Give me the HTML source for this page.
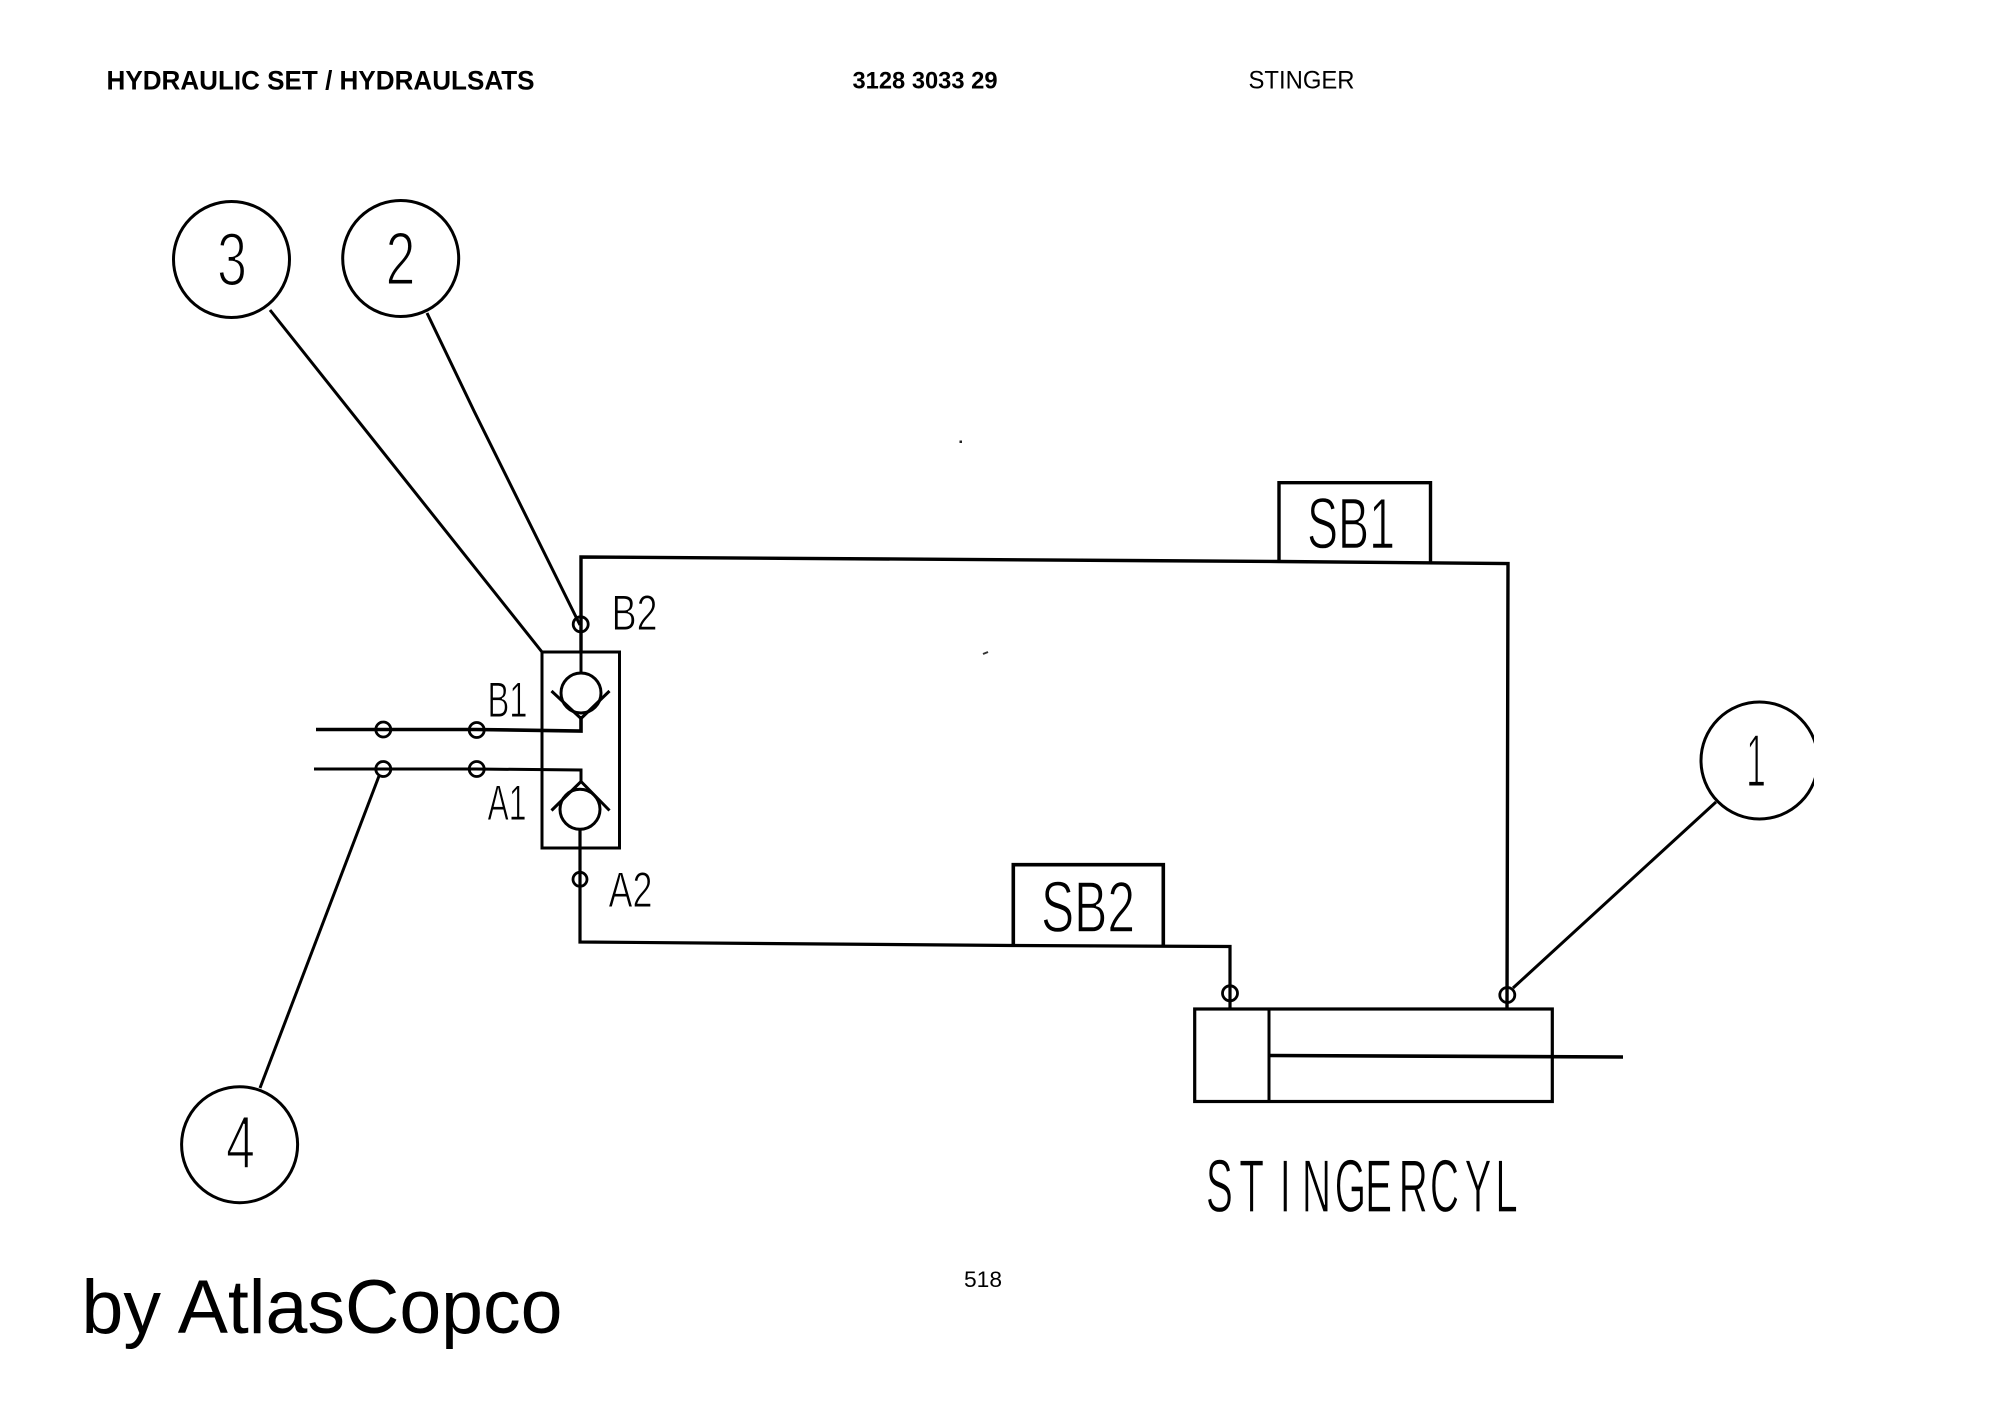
<!DOCTYPE html>
<html><head><meta charset="utf-8"><style>
html,body{margin:0;padding:0;background:#fff;width:2000px;height:1413px;overflow:hidden}
svg{display:block}
text{font-family:"Liberation Sans",sans-serif;fill:#000}
.c{stroke:#fff;stroke-width:2}
.l{fill:none;stroke:#000;stroke-width:3;stroke-linejoin:miter}
.j{fill:none;stroke:#000;stroke-width:2.8}
.w{fill:#fff;stroke:#000;stroke-width:3}
</style></head><body>
<svg width="2000" height="1413" viewBox="0 0 2000 1413" xmlns="http://www.w3.org/2000/svg">
<rect width="2000" height="1413" fill="#fff"/>

<text x="106.5" y="89.7" font-size="27" font-weight="bold" textLength="428" lengthAdjust="spacingAndGlyphs">HYDRAULIC SET / HYDRAULSATS</text>
<text x="852.5" y="88.5" font-size="24" font-weight="bold" textLength="145" lengthAdjust="spacingAndGlyphs">3128 3033 29</text>
<text x="1248.5" y="88.5" font-size="25" textLength="106" lengthAdjust="spacingAndGlyphs">STINGER</text>

<!-- balloons -->
<circle class="w" cx="231.5" cy="259.5" r="58"/>
<circle class="w" cx="400.7" cy="258.5" r="58"/>
<circle class="w" cx="239.6" cy="1144.7" r="58"/>
<circle class="w" cx="1759.5" cy="760.5" r="58.5"/>
<rect x="1814" y="690" width="40" height="140" fill="#fff"/>

<text class="c" x="217" y="285.5" font-size="75" textLength="30" lengthAdjust="spacingAndGlyphs">3</text>
<text class="c" x="385.5" y="284.5" font-size="75" textLength="30" lengthAdjust="spacingAndGlyphs">2</text>
<text class="c" x="226" y="1168" font-size="75" textLength="29" lengthAdjust="spacingAndGlyphs">4</text>
<text class="c" x="1746" y="786.5" font-size="75" textLength="20" lengthAdjust="spacingAndGlyphs">1</text>

<!-- leaders -->
<path class="l" d="M270 310 L542 652"/>
<path class="l" stroke-width="2.6" d="M427 313 L474.5 412 L580 625"/>
<path class="l" d="M379 776 L260 1088"/>
<path class="l" d="M1513 988 L1716 802"/>

<!-- pipes -->
<path class="l" style="stroke-width:3.4" d="M581 652 L581 557 L1279 561.5 L1508 563.5 L1507 1009"/>
<path class="l" style="stroke-width:3.2" d="M580 830 L580 942 L1013 945.5 L1230 946.5 L1230 1009"/>
<path class="l" style="stroke-width:3.6" d="M316 729.5 L476 729.5 L581 731 L581 716"/>
<path class="l" d="M314 769 L476 769 L581 770 L581 782"/>

<!-- valve block -->
<rect x="542" y="652" width="77.5" height="196" fill="none" stroke="#000" stroke-width="3"/>
<path class="l" d="M581 652 L581 672"/>
<circle class="l" cx="581" cy="693" r="20"/>
<path class="l" d="M551.5 691 L581 718.5 L609.5 691"/>
<circle class="l" cx="580" cy="809.3" r="20"/>
<path class="l" d="M551.5 810.5 L581 781.5 L609.5 810.5"/>

<!-- junctions -->
<circle class="j" cx="580.7" cy="624.3" r="7.5"/>
<circle class="j" cx="383.3" cy="729.5" r="7.5"/>
<circle class="j" cx="476.7" cy="730" r="7.5"/>
<circle class="j" cx="383.3" cy="769" r="7.5"/>
<circle class="j" cx="476.7" cy="769" r="7.5"/>
<circle class="j" cx="580" cy="879.3" r="7"/>
<circle class="j" cx="1230" cy="993.3" r="7.5"/>
<circle class="j" cx="1507.3" cy="995" r="7.5"/>

<!-- SB boxes -->
<path class="l" style="stroke-width:3.4" d="M1279 561.5 V482.7 H1430.5 V562"/>
<path class="l" style="stroke-width:3.6" d="M1013.3 945 V864.7 H1163.3 V946"/>

<!-- cylinder -->
<rect x="1194.7" y="1009" width="357.6" height="92.5" fill="none" stroke="#000" stroke-width="3.2"/>
<path class="l" d="M1269 1009 V1101.5"/>
<path class="l" style="stroke-width:3.6" d="M1269 1055.5 L1623 1057"/>

<!-- labels -->
<text class="c" style="stroke-width:1" x="611.5" y="630" font-size="50" textLength="46" lengthAdjust="spacingAndGlyphs">B2</text>
<text class="c" style="stroke-width:1" x="487.5" y="717" font-size="50" textLength="40" lengthAdjust="spacingAndGlyphs">B1</text>
<text class="c" style="stroke-width:1" x="487.5" y="820" font-size="50" textLength="39" lengthAdjust="spacingAndGlyphs">A1</text>
<text class="c" style="stroke-width:1" x="608.5" y="907" font-size="50" textLength="44" lengthAdjust="spacingAndGlyphs">A2</text>
<text class="c" style="stroke-width:1.4" x="1307" y="548.5" font-size="72" textLength="88" lengthAdjust="spacingAndGlyphs">SB1</text>
<text class="c" style="stroke-width:1.4" x="1041" y="932" font-size="72" textLength="94" lengthAdjust="spacingAndGlyphs">SB2</text>
<text class="c" style="stroke-width:1.2" transform="scale(0.54,1)" x="2233 2295 2369.6 2411 2471.5 2528 2590 2648 2712 2769" y="1212" font-size="75">STINGERCYL</text>

<text x="81.5" y="1333" font-size="76" textLength="481" lengthAdjust="spacingAndGlyphs">by AtlasCopco</text>
<text x="964" y="1287" font-size="22.5" textLength="38" lengthAdjust="spacingAndGlyphs">518</text>

<!-- specks -->
<rect x="959.5" y="440.5" width="2.5" height="2.5" fill="#222"/>
<path d="M983 654 L988 652" stroke="#333" stroke-width="2"/>
</svg>
</body></html>
